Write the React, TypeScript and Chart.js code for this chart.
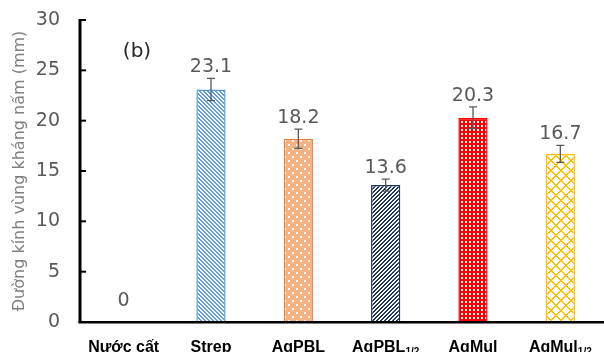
import React, { useEffect, useRef } from "react";
import { Chart, registerables } from "chart.js";

Chart.register(...registerables);

const categories = ["Nước cất", "Strep", "AgPBL", "AgPBL", "AgMul", "AgMul"];
const subscripts = ["", "", "", "1/2", "", "1/2"];
const values = [0, 23.1, 18.2, 13.6, 20.3, 16.7];
const errors = [0, 1.1, 0.95, 0.6, 1.07, 0.85];
const valueLabels = ["0", "23.1", "18.2", "13.6", "20.3", "16.7"];
const yTicks = [0, 5, 10, 15, 20, 25, 30];
const yTitle = "Đường kính vùng kháng nấm (mm)";
const panelLabel = "(b)";

type Fn = (x: number, y: number) => string;

function makePattern(w: number, h: number, fn: Fn): CanvasPattern {
  const c = document.createElement("canvas");
  c.width = w;
  c.height = h;
  const g = c.getContext("2d")!;
  for (let y = 0; y < h; y++) {
    for (let x = 0; x < w; x++) {
      g.fillStyle = fn(x, y);
      g.fillRect(x, y, 1, 1);
    }
  }
  return g.createPattern(c, "repeat")!;
}

export default function App() {
  const ref = useRef<HTMLCanvasElement>(null);

  useEffect(() => {
    const canvas = ref.current!;
    const W = "#ffffff";
    const blue = "#5B9BD5";
    const orangeBg = "#F4B183";
    const orange = "#ED7D31";
    const navy = "#203864";
    const red = "#FF0000";
    const yellow = "#FFC000";

    const patterns = [
      makePattern(4, 4, () => W),
      makePattern(4, 4, (x, y) => (((x - y) % 4 + 4) % 4 < 2 ? blue : W)),
      makePattern(8, 8, (x, y) =>
        (x < 2 && y < 2) || (x >= 4 && x < 6 && y >= 4 && y < 6) ? W : orangeBg
      ),
      makePattern(4, 4, (x, y) => ((x + y) % 4 < 2 ? navy : W)),
      makePattern(4, 4, (x, y) => (x >= 1 && x < 3 && y >= 1 && y < 3 ? W : red)),
      makePattern(10, 10, (x, y) =>
        (x + y) % 10 < 2 || ((x - y) % 10 + 10) % 10 < 2 ? yellow : W
      ),
    ];
    const borders = ["#ffffff", blue, orange, navy, red, yellow];

    const overlay = {
      id: "overlay",
      afterDraw(chart: any) {
        const ctx = chart.ctx as CanvasRenderingContext2D;
        const xs = chart.scales.x;
        const ys = chart.scales.y;
        const area = chart.chartArea;
        const base = ys.getPixelForValue(0);
        const topY = ys.getPixelForValue(30);
        ctx.save();

        // error bars + value labels
        values.forEach((v, i) => {
          const cx = xs.getPixelForValue(i);
          const e = errors[i];
          const top = ys.getPixelForValue(v + e);
          if (e > 0) {
            const bot = ys.getPixelForValue(v - e);
            ctx.strokeStyle = "#595959";
            ctx.lineWidth = 1.3;
            ctx.beginPath();
            ctx.moveTo(cx, top);
            ctx.lineTo(cx, bot);
            ctx.moveTo(cx - 4, top);
            ctx.lineTo(cx + 4, top);
            ctx.moveTo(cx - 4, bot);
            ctx.lineTo(cx + 4, bot);
            ctx.stroke();
          }
          ctx.fillStyle = "#595959";
          ctx.font = '19px "DejaVu Sans"';
          ctx.textAlign = "center";
          ctx.textBaseline = "alphabetic";
          const bl = Math.min(top - 6, base - 16);
          ctx.fillText(valueLabels[i], cx, bl);
        });

        // axes
        ctx.fillStyle = "#000000";
        ctx.fillRect(area.left - 1.5, topY - 1, 3, base - topY + 2);
        ctx.fillRect(area.left - 1.5, base - 1, area.right - area.left + 2, 2.5);
        yTicks.forEach((t) => {
          const py = ys.getPixelForValue(t);
          ctx.fillRect(area.left, py - 1, 6, 2);
        });

        // category labels with subscripts
        categories.forEach((c, i) => {
          const cx = xs.getPixelForValue(i);
          ctx.font = 'bold 16px "Liberation Sans"';
          const mw = ctx.measureText(c).width;
          let sw = 0;
          if (subscripts[i]) {
            ctx.font = 'bold 10px "Liberation Sans"';
            sw = ctx.measureText(subscripts[i]).width;
          }
          const x0 = cx - (mw + sw) / 2;
          ctx.fillStyle = "#000000";
          ctx.textAlign = "left";
          ctx.textBaseline = "alphabetic";
          ctx.font = 'bold 16px "Liberation Sans"';
          ctx.fillText(c, x0, 352);
          if (subscripts[i]) {
            ctx.font = 'bold 10px "Liberation Sans"';
            ctx.fillText(subscripts[i], x0 + mw, 355);
          }
        });

        // panel label
        ctx.fillStyle = "#262626";
        ctx.font = '20px "DejaVu Sans"';
        ctx.textAlign = "center";
        ctx.textBaseline = "middle";
        ctx.fillText(panelLabel, 137, 52);
        ctx.restore();
      },
    };

    const chart = new Chart(canvas, {
      type: "bar",
      data: {
        labels: categories,
        datasets: [
          {
            data: values,
            backgroundColor: patterns as any,
            borderColor: borders,
            borderWidth: 1.5,
            barPercentage: 0.335,
            categoryPercentage: 1,
          },
        ],
      },
      options: {
        animation: false,
        responsive: true,
        maintainAspectRatio: false,
        layout: { padding: { top: 20, left: 0, right: 0, bottom: 0 } },
        plugins: { legend: { display: false }, tooltip: { enabled: false } },
        scales: {
          x: {
            type: "category",
            grid: { display: false, drawTicks: false },
            border: { display: false },
            ticks: { display: false },
            afterFit: (s: any) => {
              s.height = 30;
              s.paddingLeft = 0;
              s.paddingRight = 0;
            },
          },
          y: {
            min: 0,
            max: 30,
            grid: { display: false, drawTicks: false },
            border: { display: false },
            ticks: {
              stepSize: 5,
              padding: 20,
              color: "#595959",
              font: { family: "DejaVu Sans", size: 19 },
            },
            title: {
              display: true,
              text: yTitle,
              color: "#808080",
              font: { family: "DejaVu Sans", size: 16 },
              padding: { top: 10, bottom: 0 },
            },
            afterFit: (s: any) => {
              s.width = 80;
              s.paddingTop = 0;
              s.paddingBottom = 0;
            },
          },
        },
      },
      plugins: [overlay],
    });
    return () => chart.destroy();
  }, []);

  return (
    <div style={{ position: "absolute", left: 0, top: 0, width: 604, height: 352 }}>
      <canvas ref={ref} />
    </div>
  );
}
